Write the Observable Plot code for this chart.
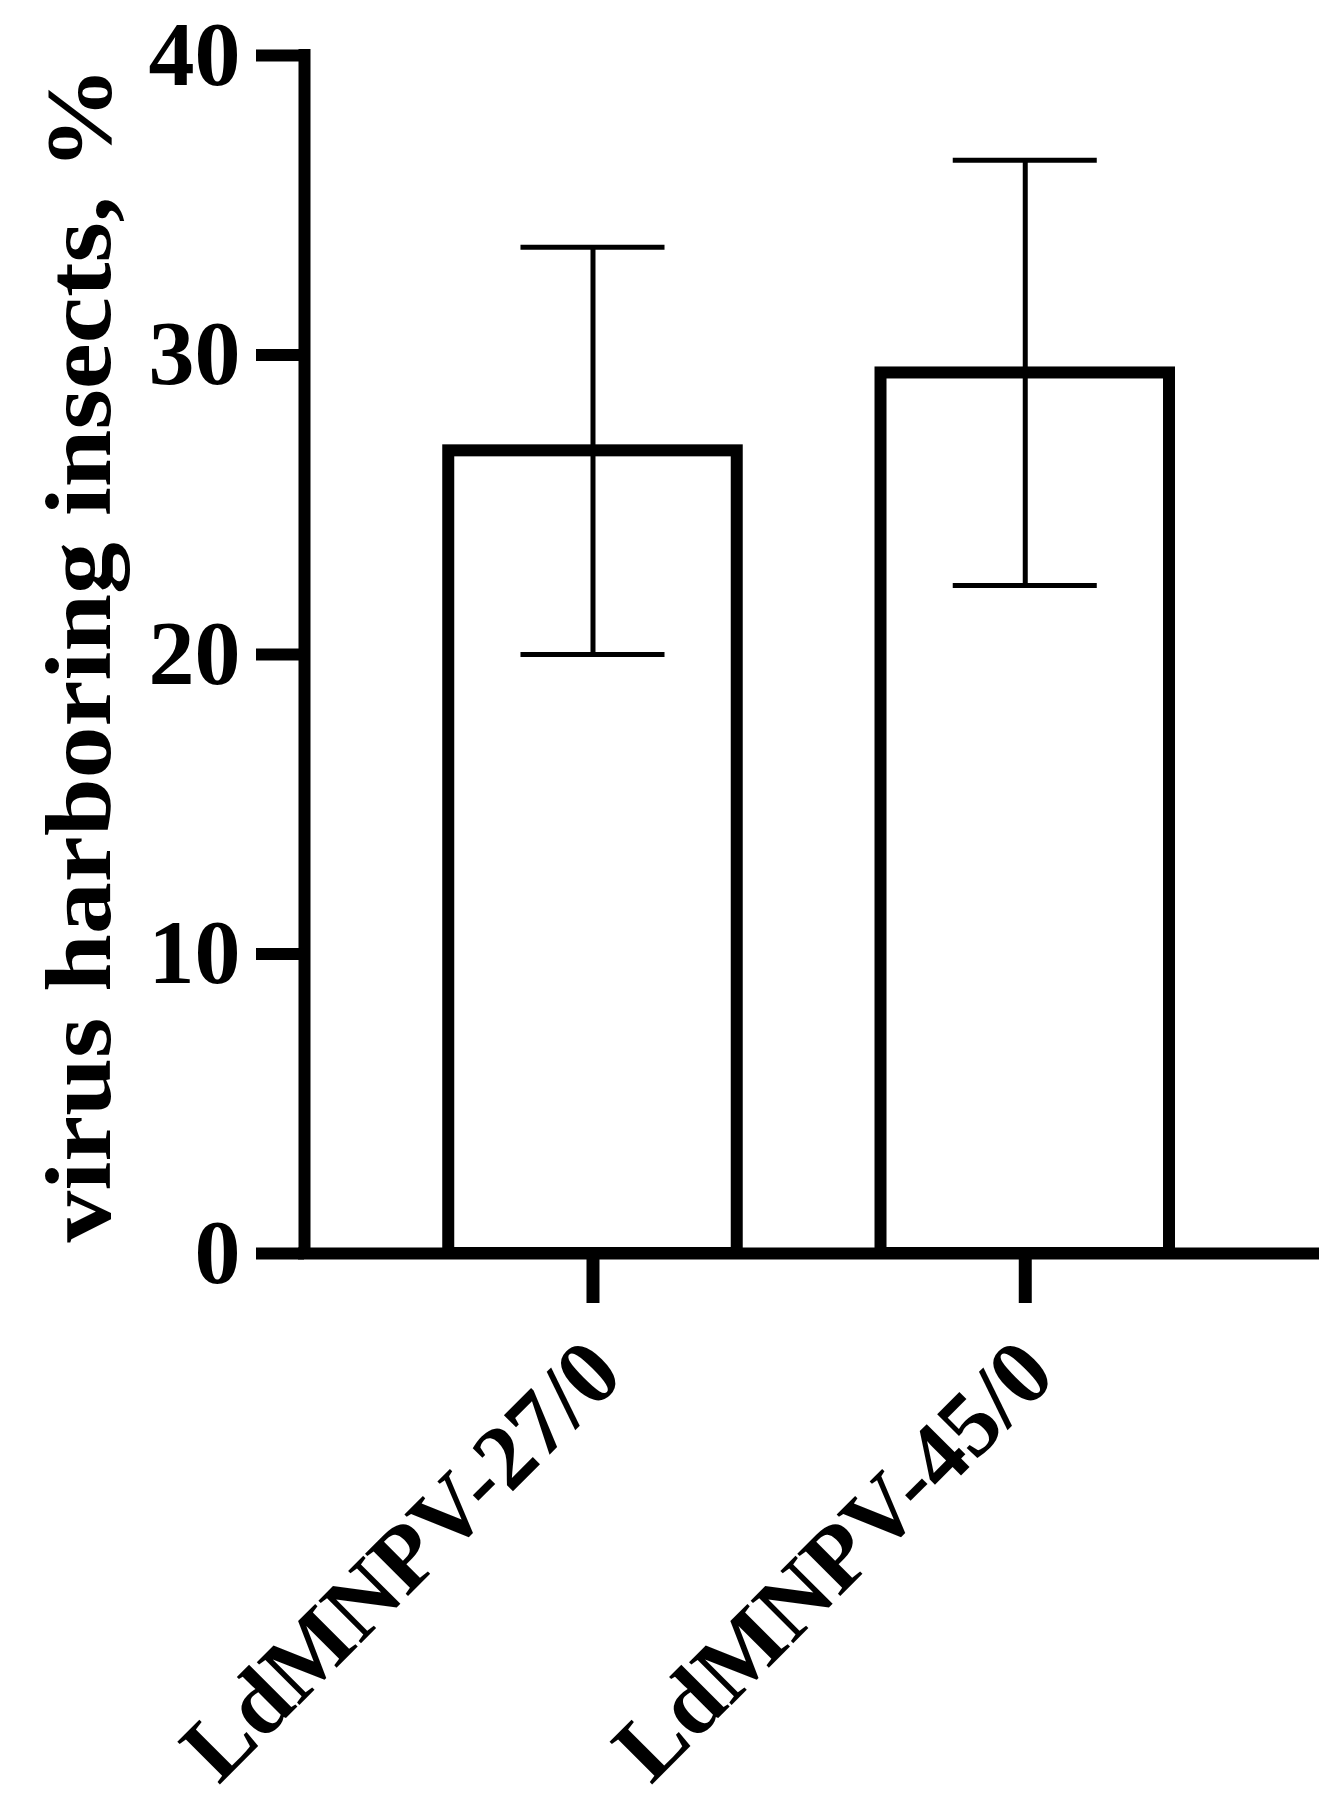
<!DOCTYPE html>
<html>
<head>
<meta charset="utf-8">
<script src="https://cdn.jsdelivr.net/npm/d3@7"></script>
<script src="https://cdn.jsdelivr.net/npm/@observablehq/plot@0.6"></script>
<style>
  html, body { margin: 0; padding: 0; background: #fff; }
  #chart svg { display: block; }
</style>
</head>
<body>
<div id="chart"></div>
<script>
// ---- data ----
const categories = ["LdMNPV-27/0", "LdMNPV-45/0"];
const means = [26.8, 29.4];
const errors = [6.8, 7.1];
const yTicks = [0, 10, 20, 30, 40];
const yTitle = "virus harboring insects, %";

// ---- layout ----
const W = 1339, H = 1812;
const xDomain = [-0.6674, 1.6807];
const halfBar = 0.3337;
const halfCap = 0.1666;
const FONT = '"Liberation Serif", "Times New Roman", Times, serif';

const rows = categories.map((c, i) => ({
  i, category: c, mean: means[i], lo: means[i] - errors[i], hi: means[i] + errors[i]
}));

const chart = Plot.plot({
  width: W,
  height: H,
  marginTop: 55,
  marginBottom: H - 1253,
  marginLeft: 304,
  marginRight: W - 1319,
  style: { fontFamily: FONT, fontWeight: "bold", fontSize: "92px", color: "#000", background: "#fff" },
  x: { type: "linear", domain: xDomain },
  y: { domain: [0, 40] },
  marks: [
    Plot.rectY(rows, {
      x1: d => d.i - halfBar, x2: d => d.i + halfBar, y1: 0, y2: "mean",
      fill: "white", stroke: "black", strokeWidth: 12
    }),
    Plot.ruleX(rows, { x: "i", y1: "lo", y2: "hi", stroke: "black", strokeWidth: 5 }),
    Plot.ruleY(rows, { y: "hi", x1: d => d.i - halfCap, x2: d => d.i + halfCap, stroke: "black", strokeWidth: 5 }),
    Plot.ruleY(rows, { y: "lo", x1: d => d.i - halfCap, x2: d => d.i + halfCap, stroke: "black", strokeWidth: 5 }),
    // axis lines
    Plot.ruleX([xDomain[0]], { stroke: "black", strokeWidth: 12, insetTop: -6, insetBottom: -6 }),
    Plot.ruleY([0], { stroke: "black", strokeWidth: 12, insetLeft: -6 }),
    Plot.axisY({
      ticks: yTicks, tickSize: 48, tickPadding: 16, strokeWidth: 12,
      fontSize: 92, fontWeight: "bold", fontFamily: FONT, label: null
    }),
    Plot.axisX({
      ticks: categories.map((d, i) => i), tickSize: 50, strokeWidth: 13,
      tickFormat: () => "", label: null
    }),
    Plot.text(rows, {
      x: "i", text: "category", frameAnchor: "bottom",
      rotate: -45, textAnchor: "end", lineAnchor: "middle",
      dx: 12, dy: 104, fontSize: 92, fontWeight: "bold", fontFamily: FONT
    }),
    Plot.text([yTitle], {
      frameAnchor: "left", rotate: -90, textAnchor: "middle", lineAnchor: "bottom",
      dx: -195, fontSize: 94, fontWeight: "bold", fontFamily: FONT
    })
  ]
});
// stretch the axis title along its length, as in the original figure
d3.select(chart).selectAll("text")
  .filter(function () { return this.textContent === yTitle; })
  .attr("textLength", 1176)
  .attr("lengthAdjust", "spacingAndGlyphs");
document.getElementById("chart").appendChild(chart);
</script>
</body>
</html>
